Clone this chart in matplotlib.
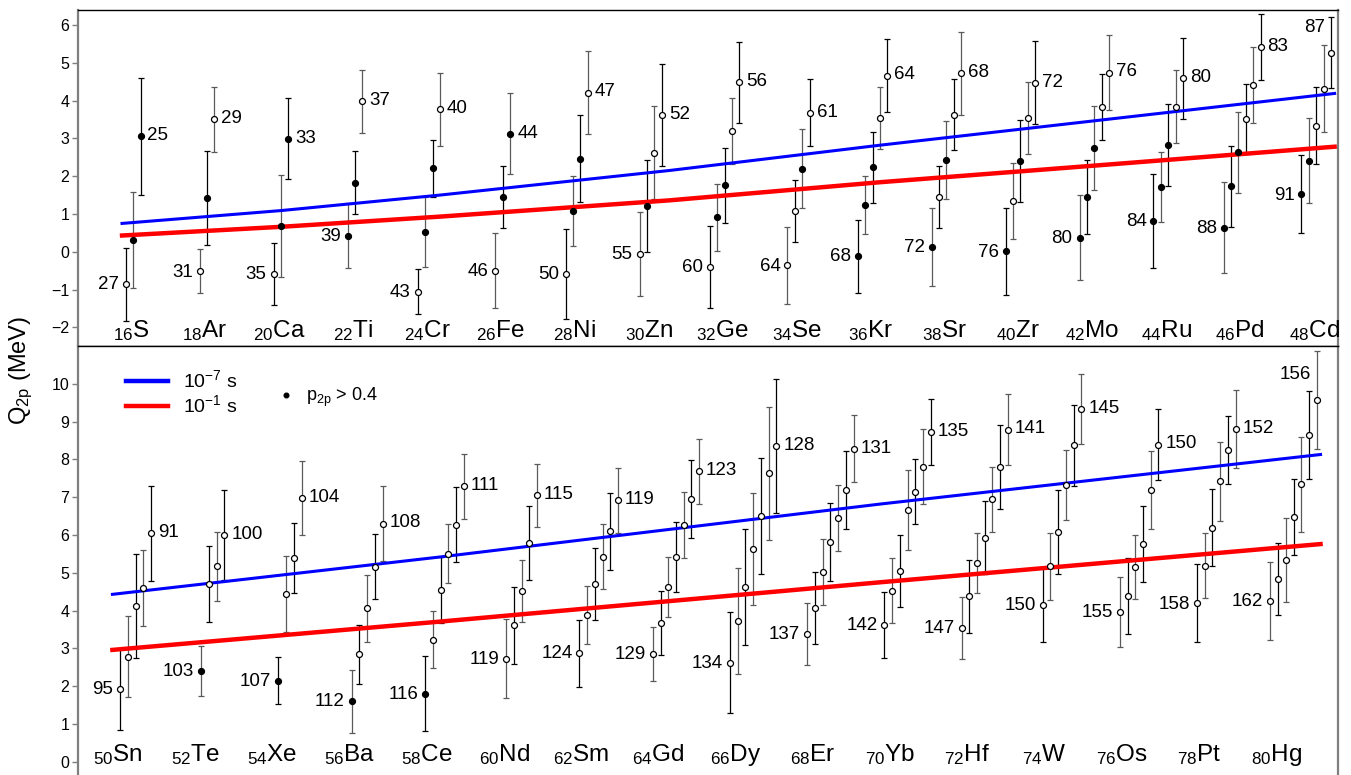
import matplotlib
matplotlib.use('Agg')
import matplotlib.pyplot as plt
from matplotlib.lines import Line2D

plt.rcParams['font.family'] = ['Liberation Sans', 'DejaVu Sans']
plt.rcParams['mathtext.fontset'] = 'custom'
plt.rcParams['mathtext.rm'] = 'Liberation Sans'
plt.rcParams['mathtext.it'] = 'Liberation Sans:italic'
plt.rcParams['mathtext.bf'] = 'Liberation Sans:bold'

# ---- upper panel: Z = 16..48 ----
sym_top = ['S', 'Ar', 'Ca', 'Ti', 'Cr', 'Fe', 'Ni', 'Zn', 'Ge', 'Se', 'Kr',
           'Sr', 'Zr', 'Mo', 'Ru', 'Pd', 'Cd']
z_top = [16, 18, 20, 22, 24, 26, 28, 30, 32, 34, 36, 38, 40, 42, 44, 46, 48]
# isotopes listed heaviest -> lightest
q_top = [
    [-0.86, 0.31, 3.06],
    [-0.52, 1.42, 3.51],
    [-0.59, 0.68, 2.99],
    [0.43, 1.83, 3.98],
    [-1.06, 0.52, 2.21, 3.77],
    [-0.50, 1.46, 3.12],
    [-0.59, 1.07, 2.46, 4.21],
    [-0.06, 1.22, 2.62, 3.62],
    [-0.40, 0.91, 1.76, 3.20, 4.48],
    [-0.36, 1.08, 2.20, 3.68],
    [-0.12, 1.24, 2.23, 3.54, 4.66],
    [0.13, 1.44, 2.43, 3.63, 4.72],
    [0.01, 1.34, 2.41, 3.54, 4.47],
    [0.37, 1.44, 2.75, 3.83, 4.74],
    [0.82, 1.72, 2.82, 3.84, 4.59],
    [0.64, 1.73, 2.63, 3.51, 4.42, 5.41],
    [1.52, 2.41, 3.34, 4.31, 5.27],
]
err_top = [
    [0.97, 1.27, 1.55],
    [0.58, 1.25, 0.86],
    [0.81, 1.34, 1.07],
    [0.86, 0.84, 0.84],
    [0.60, 0.92, 0.76, 0.96],
    [1.00, 0.82, 1.07],
    [1.20, 0.93, 1.15, 1.10],
    [1.10, 1.22, 1.23, 1.34],
    [1.08, 0.89, 0.99, 0.88, 1.07],
    [1.01, 0.82, 1.04, 0.89],
    [0.96, 0.77, 0.94, 0.83, 0.96],
    [1.03, 0.82, 1.03, 0.93, 1.10],
    [1.16, 1.00, 1.09, 0.96, 1.10],
    [1.12, 0.98, 1.12, 0.88, 1.00],
    [1.25, 0.93, 1.08, 0.97, 1.08],
    [1.21, 1.07, 1.08, 0.92, 1.00, 0.87],
    [1.03, 1.13, 1.02, 1.15, 0.93],
]
# 1 = p2p > 0.4 (filled)
fill_top = [
    [0, 1, 1], [0, 1, 0], [0, 1, 1], [1, 1, 0], [0, 1, 1, 0], [0, 1, 1],
    [0, 1, 1, 0], [0, 1, 0, 0], [0, 1, 1, 0, 0], [0, 0, 1, 0],
    [1, 1, 1, 0, 0], [1, 0, 1, 0, 0], [1, 0, 1, 0, 0], [1, 1, 1, 0, 0],
    [1, 1, 1, 0, 0], [1, 1, 1, 0, 0, 0], [1, 1, 0, 0, 0],
]
a_hi_top = ['27', '31', '35', '39', '43', '46', '50', '55', '60', '64', '68',
            '72', '76', '80', '84', '88', '91']
a_lo_top = ['25', '29', '33', '37', '40', '44', '47', '52', '56', '61', '64',
            '68', '72', '76', '80', '83', '87']

line_z_top = [15.7, 20, 24.3, 30.5, 36.2, 42.4, 48.5]
blue_top = [0.75, 1.09, 1.50, 2.15, 2.82, 3.51, 4.19]
red_top = [0.43, 0.66, 0.93, 1.36, 1.84, 2.31, 2.78]

# ---- lower panel: Z = 50..80 ----
sym_bot = ['Sn', 'Te', 'Xe', 'Ba', 'Ce', 'Nd', 'Sm', 'Gd', 'Dy', 'Er', 'Yb',
           'Hf', 'W', 'Os', 'Pt', 'Hg']
z_bot = [50, 52, 54, 56, 58, 60, 62, 64, 66, 68, 70, 72, 74, 76, 78, 80]
q_bot = [
    [1.93, 2.78, 4.13, 4.60, 6.04],
    [2.40, 4.71, 5.17, 5.99],
    [2.14, 4.44, 5.39, 6.98],
    [1.60, 2.84, 4.06, 5.16, 6.30],
    [1.80, 3.23, 4.54, 5.51, 6.27, 7.29],
    [2.73, 3.61, 4.51, 5.79, 7.05],
    [2.87, 3.88, 4.70, 5.43, 6.10, 6.92],
    [2.85, 3.68, 4.63, 5.42, 6.26, 6.96, 7.69],
    [2.62, 3.73, 4.62, 5.64, 6.50, 7.64, 8.36],
    [3.38, 4.07, 5.02, 5.82, 6.45, 7.20, 8.28],
    [3.62, 4.53, 5.05, 6.67, 7.15, 7.81, 8.72],
    [3.55, 4.38, 5.26, 5.93, 6.94, 7.80, 8.79],
    [4.15, 5.17, 6.08, 7.32, 8.37, 9.33],
    [3.96, 4.38, 5.15, 5.76, 7.19, 8.39],
    [4.19, 5.19, 6.19, 7.42, 8.24, 8.80],
    [4.25, 4.84, 5.34, 6.47, 7.34, 8.65, 9.58],
]
err_bot = [
    [1.09, 1.07, 1.38, 1.00, 1.25],
    [0.66, 1.00, 0.92, 1.19],
    [0.62, 1.00, 0.92, 0.98],
    [0.83, 0.77, 0.88, 0.86, 0.99],
    [0.99, 0.76, 0.88, 0.79, 0.99, 0.86],
    [1.05, 1.02, 0.82, 0.99, 0.83],
    [0.88, 0.76, 0.95, 0.87, 1.02, 0.86],
    [0.72, 0.85, 0.79, 0.93, 0.88, 1.03, 0.86],
    [1.33, 1.40, 1.53, 1.48, 1.54, 1.76, 1.77],
    [0.81, 0.95, 0.87, 1.04, 0.86, 1.03, 0.89],
    [0.88, 0.87, 0.96, 1.06, 0.85, 1.00, 0.88],
    [0.82, 0.97, 0.80, 0.97, 0.86, 1.10, 0.95],
    [0.99, 0.89, 1.10, 0.93, 1.08, 0.92],
    [0.93, 1.01, 0.85, 1.01, 1.02, 0.94],
    [1.03, 0.85, 1.02, 1.05, 0.90, 1.04],
    [1.04, 0.95, 1.10, 1.00, 1.25, 1.16, 1.30],
]
fill_bot = [[0] * len(q) for q in q_bot]
for i in (1, 2, 3, 4):   # Te103, Xe107, Ba112, Ce116
    fill_bot[i][0] = 1
a_hi_bot = ['95', '103', '107', '112', '116', '119', '124', '129', '134',
            '137', '142', '147', '150', '155', '158', '162']
a_lo_bot = ['91', '100', '104', '108', '111', '115', '119', '123', '128',
            '131', '135', '141', '145', '150', '152', '156']

line_z_bot = [49.4, 57.9, 69.3, 80.7]
blue_bot = [4.43, 5.42, 6.82, 8.13]
red_bot = [2.96, 3.71, 4.75, 5.76]


def panel(ax, syms, zs, qs, errs, fills, a_hi, a_lo, lab_dx, lab_y,
          lz, lblue, lred):
    for j, z in enumerate(zs):
        n = len(qs[j])
        for k in range(n):
            x = z + 0.2 * (k - (n - 1) / 2)
            col = 'black' if (j + k) % 2 == 0 else '#5a5a5a'
            ax.errorbar(x, qs[j][k], yerr=errs[j][k], fmt='none', ecolor=col,
                        elinewidth=0.9, capsize=2.3, capthick=0.9, zorder=2)
            ax.plot(x, qs[j][k], 'o', ms=4.3, mec='black', mew=0.9,
                    mfc='black' if fills[j][k] else 'white', zorder=5)
            if k == 0:
                ax.annotate(a_hi[j], (x, qs[j][k]), xytext=(-5, -0.5),
                            textcoords='offset points', ha='right',
                            va='center', fontsize=13.5)
            if k == n - 1:
                if j == len(zs) - 1:
                    ax.annotate(a_lo[j], (x, qs[j][k]), xytext=(-4, 18),
                                textcoords='offset points', ha='right',
                                va='center', fontsize=13.5)
                else:
                    ax.annotate(a_lo[j], (x, qs[j][k]), xytext=(5, 0.5),
                                textcoords='offset points', ha='left',
                                va='center', fontsize=13.5)
        ax.text(z + lab_dx, lab_y, r'$_{%d}$%s' % (z, syms[j]), ha='center',
                va='baseline', fontsize=17.5)
    ax.plot(lz, lblue, color='#0000ff', lw=2.2, zorder=4)
    ax.plot(lz, lred, color='#ff0000', lw=3.2, zorder=4)
    ax.set_xticks([])
    ax.tick_params(axis='y', direction='out', length=4, width=1,
                   color='#7f7f7f', labelsize=11.5, pad=2)
    for s in ('left', 'right'):
        ax.spines[s].set_color('#7f7f7f')
        ax.spines[s].set_linewidth(1.6)


fig = plt.figure(figsize=(13.51, 7.75), dpi=100)
ax1 = fig.add_axes([0.0575, 0.5535, 0.9331, 0.4332])
ax2 = fig.add_axes([0.0575, 0.0, 0.9331, 0.5535])

panel(ax1, sym_top, z_top, q_top, err_top, fill_top, a_hi_top, a_lo_top,
      -0.05, -2.25, line_z_top, blue_top, red_top)
panel(ax2, sym_bot, z_bot, q_bot, err_bot, fill_bot, a_hi_bot, a_lo_bot,
      -0.45, 0.03, line_z_bot, blue_bot, red_bot)

ax1.set_xlim(14.5, 48.6)
ax1.set_ylim(-2.495, 6.39)
ax1.set_yticks(range(-2, 7))
ax2.set_xlim(48.5, 81.16)
ax2.set_ylim(-0.35, 11.0)
ax2.set_yticks(range(0, 11))
for s in ('top', 'bottom'):
    ax1.spines[s].set_linewidth(1.0)
ax2.spines['top'].set_linewidth(1.0)
ax2.spines['bottom'].set_visible(False)

fig.text(0.016, 1 - 370 / 775, r'Q$_{\mathrm{2p}}$ (MeV)', rotation=90,
         ha='center', va='center', fontsize=17)

h_b = Line2D([], [], color='#0000ff', lw=3.2)
h_r = Line2D([], [], color='#ff0000', lw=3.2)
leg1 = ax2.legend([h_b, h_r], [r'10$^{-7}$ s', r'10$^{-1}$ s'],
                  loc='upper left', bbox_to_anchor=(0.038, 0.945),
                  frameon=False, fontsize=14, handlelength=2.2,
                  handletextpad=0.75, labelspacing=0.15, borderpad=0,
                  borderaxespad=0)
ax2.add_artist(leg1)
h_p = Line2D([], [], ls='none', marker='o', ms=3.3, color='black')
ax2.legend([h_p], [r'p$_{\mathrm{2p}}$ > 0.4'], loc='upper left',
           bbox_to_anchor=(0.161, 0.907), frameon=False, fontsize=13,
           handlelength=0.6, handletextpad=0.8, borderpad=0,
           borderaxespad=0)

fig.savefig('out.png', dpi=100)
